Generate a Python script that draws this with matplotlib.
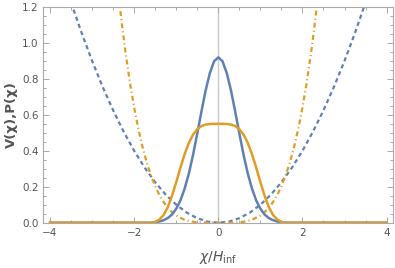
import matplotlib.pyplot as plt
from matplotlib.ticker import MultipleLocator

# values
x_sol = [-4.0, -1.6, -1.5, -1.4, -1.3, -1.2, -1.1, -1.0, -0.9, -0.8, -0.7, -0.6, -0.5, -0.4,
         -0.3, -0.2, -0.1, 0.0, 0.1, 0.2, 0.3, 0.4, 0.5, 0.6, 0.7, 0.8, 0.9, 1.0,
         1.1, 1.2, 1.3, 1.4, 1.5, 1.6, 4.0]
p_blue = [0.0, 0.0, 0.003, 0.007, 0.014, 0.026, 0.046, 0.078, 0.124, 0.190, 0.274, 0.378, 0.496, 0.620,
          0.737, 0.833, 0.898, 0.920, 0.898, 0.833, 0.737, 0.620, 0.496, 0.378, 0.274, 0.190, 0.124, 0.078,
          0.046, 0.026, 0.014, 0.007, 0.003, 0.0, 0.0]
p_orange = [0.0, 0.0, 0.004, 0.018, 0.043, 0.087, 0.150, 0.226, 0.307, 0.382, 0.444, 0.490, 0.520, 0.538,
            0.546, 0.549, 0.550, 0.550, 0.550, 0.549, 0.546, 0.538, 0.520, 0.490, 0.444, 0.382, 0.307, 0.226,
            0.150, 0.087, 0.043, 0.018, 0.004, 0.0, 0.0]

x_vb = [-3.5, -3.25, -3.0, -2.75, -2.5, -2.25, -2.0, -1.75, -1.5, -1.25, -1.0, -0.75, -0.5, -0.25,
        0.0, 0.25, 0.5, 0.75, 1.0, 1.25, 1.5, 1.75, 2.0, 2.25, 2.5, 2.75, 3.0, 3.25, 3.5]
v_blue = [1.225, 1.056, 0.900, 0.756, 0.625, 0.506, 0.400, 0.306, 0.225, 0.156, 0.100, 0.056, 0.025, 0.006,
          0.0, 0.006, 0.025, 0.056, 0.100, 0.156, 0.225, 0.306, 0.400, 0.506, 0.625, 0.756, 0.900, 1.056, 1.225]

x_vo = [-2.4, -2.3, -2.2, -2.1, -2.0, -1.9, -1.8, -1.7, -1.6, -1.5, -1.4, -1.3, -1.2, -1.1, -1.0,
        -0.8, -0.6, -0.4, -0.2, 0.0, 0.2, 0.4, 0.6, 0.8,
        1.0, 1.1, 1.2, 1.3, 1.4, 1.5, 1.6, 1.7, 1.8, 1.9, 2.0, 2.1, 2.2, 2.3, 2.4]
v_orange = [1.327, 1.119, 0.937, 0.778, 0.640, 0.521, 0.420, 0.334, 0.262, 0.203, 0.154, 0.114, 0.083, 0.059, 0.040,
            0.016, 0.005, 0.001, 0.0, 0.0, 0.0, 0.001, 0.005, 0.016,
            0.040, 0.059, 0.083, 0.114, 0.154, 0.203, 0.262, 0.334, 0.420, 0.521, 0.640, 0.778, 0.937, 1.119, 1.327]

blue = '#5E81B5'
orange = '#E19C24'
gray = '#555555'

fig = plt.figure(figsize=(3.95, 2.68), dpi=100)
ax = fig.add_axes([0.1097, 0.169, 0.886, 0.805])

ax.axvline(0, color='#c8c8c8', lw=1.0, zorder=0)
ax.plot(x_vb, v_blue, color=blue, lw=1.6, dashes=(1.9, 1.5))
ax.plot(x_vo, v_orange, color=orange, lw=1.6, dashes=(2.2, 1.4, 0.5, 1.4))
ax.plot(x_sol, p_blue, color=blue, lw=1.8)
ax.plot(x_sol, p_orange, color=orange, lw=1.8)

ax.set_xlim(-4.16, 4.16)
ax.set_ylim(0, 1.2)
ax.set_xticks([-4, -2, 0, 2, 4])
ax.set_xticklabels(['\u22124', '\u22122', '0', '2', '4'])
ax.set_yticks([0.0, 0.2, 0.4, 0.6, 0.8, 1.0, 1.2])
ax.set_yticklabels(['0.0', '0.2', '0.4', '0.6', '0.8', '1.0', '1.2'])
ax.xaxis.set_minor_locator(MultipleLocator(0.5))
ax.yaxis.set_minor_locator(MultipleLocator(0.05))
ax.tick_params(which='both', direction='in', top=True, right=True, color='#aaaaaa',
               labelcolor=gray, labelsize=7.5, width=0.7)
ax.tick_params(which='major', length=4)
ax.tick_params(which='minor', length=2)
for s in ax.spines.values():
    s.set_color('#aaaaaa')
    s.set_linewidth(0.8)

ax.set_xlabel(r'$\chi/H_{\mathrm{inf}}$', fontsize=10, color=gray, labelpad=8)
ax.set_ylabel('V(\u03c7),P(\u03c7)', fontsize=9.5, color=gray, fontweight='bold', labelpad=3)

fig.savefig('out.png', dpi=100)
